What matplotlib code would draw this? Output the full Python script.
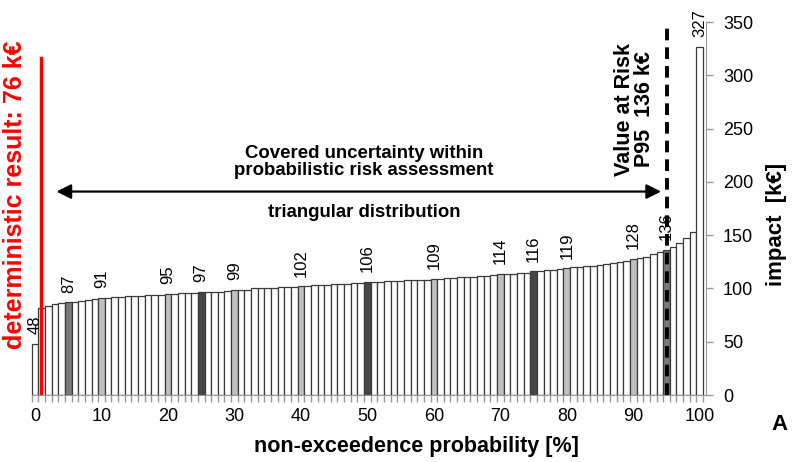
import numpy as np
import matplotlib.pyplot as plt

plt.rcParams['font.family'] = ['Liberation Sans', 'DejaVu Sans']

# impact per non-exceedence probability step [k€]
prob = list(range(0, 101))
impact = [48, 82, 84, 85, 86, 87, 87, 88, 89, 90,
          91, 91, 92, 92, 93, 93, 93, 94, 94, 94,
          95, 95, 96, 96, 96, 97, 97, 97, 97, 98,
          99, 99, 99, 100, 100, 100, 100, 101, 101, 101,
          102, 102, 103, 103, 103, 104, 104, 104, 105, 105,
          106, 106, 106, 107, 107, 107, 108, 108, 108, 108,
          109, 109, 110, 110, 111, 111, 111, 112, 112, 113,
          114, 114, 114, 115, 115, 116, 116, 117, 117, 118,
          119, 120, 120, 121, 121, 122, 123, 124, 125, 126,
          128, 129, 130, 132, 134, 136, 139, 143, 147, 153,
          327]

labelled = [0, 5, 10, 20, 25, 30, 40, 50, 60, 70, 75, 80, 90, 95, 100]
dark = [25, 50, 75]
mid = [5, 95]
light = [10, 20, 30, 40, 60, 70, 80, 90]

deterministic = 76
p95 = 95

colors = []
for p in prob:
    if p in dark:
        colors.append('#474747')
    elif p in mid:
        colors.append('#7a7a7a')
    elif p in light:
        colors.append('#c0c0c0')
    else:
        colors.append('white')

fig = plt.figure(figsize=(7.93, 4.62), dpi=100)
ax = fig.add_axes([0.0358, 0.145, 0.855, 0.807])

ax.bar(prob, impact, width=1.0, color=colors, edgecolor='#3a3a3a', linewidth=0.9, zorder=2)

for p in labelled:
    ax.annotate(str(impact[p]), (p, impact[p]), xytext=(0, 7), textcoords='offset points',
                rotation=90, ha='center', va='bottom', fontsize=12, zorder=4)

# deterministic result and value at risk markers
ax.plot([0.9, 0.9], [0, 316], color='red', lw=2.5, zorder=5)
ax.plot([p95, p95], [0, 350], color='black', lw=2.8, ls=(0, (3, 1.8)), zorder=5)

ax.annotate('', xy=(2.8, 191), xytext=(94.6, 191),
            arrowprops=dict(arrowstyle='<|-|>', color='black', lw=1.6, mutation_scale=22))
ax.text(49.5, 219, 'Covered uncertainty within\nprobabilistic risk assessment', ha='center', va='center',
        fontsize=13.4, fontweight='bold', linespacing=1.0)
ax.text(49.5, 171, 'triangular distribution', ha='center', va='center', fontsize=13.4, fontweight='bold')
ax.text(90.2, 268, 'Value at Risk\nP95  136 k€', rotation=90, ha='center', va='center',
        fontsize=15.5, fontweight='bold', linespacing=0.95)

ax.set_xlim(-1, 101)
ax.set_ylim(0, 350)
ax.set_xticks(range(0, 101, 10))
ax.set_xticks(np.arange(-0.5, 101, 1.0), minor=True)
ax.tick_params(axis='x', which='major', length=0, labelsize=13, pad=9)
ax.tick_params(axis='x', which='minor', length=5, color='#999999', width=1)
ax.yaxis.tick_right()
ax.yaxis.set_label_position('right')
ax.set_yticks(range(0, 351, 50))
ax.tick_params(axis='y', length=5, color='#999999', width=1, labelsize=13, pad=7)

for side in ['top', 'left']:
    ax.spines[side].set_visible(False)
ax.spines['right'].set_color('#999999')
ax.spines['bottom'].set_color('#999999')
ax.spines['bottom'].set_bounds(-0.5, 101)

ax.set_xlabel('non-exceedence probability [%]', fontsize=15.5, fontweight='bold', va='center')
ax.xaxis.set_label_coords(0.572, -0.137)
ax.set_ylabel('impact  [k€]', fontsize=16, fontweight='bold', va='center')
ax.yaxis.set_label_coords(1.103, 0.458)

fig.text(15 / 793, 1 - 195 / 462, 'deterministic result: 76 k€', rotation=90, color='red',
         ha='center', va='center', fontsize=18, fontweight='bold')
fig.text(780 / 793, 1 - 425 / 462, 'A', ha='center', va='center', fontsize=16, fontweight='bold')

fig.savefig('out.png', dpi=100)
